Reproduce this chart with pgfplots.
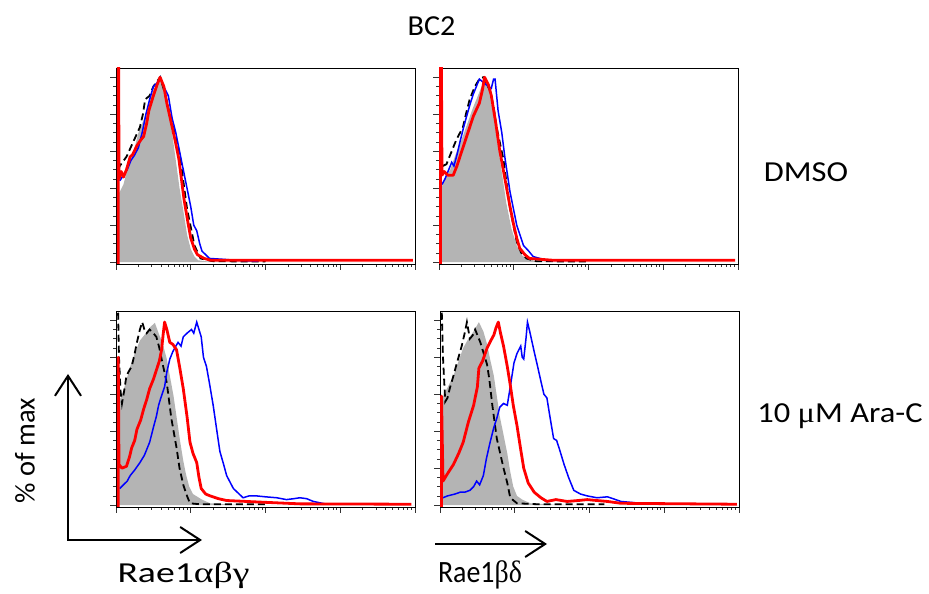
\documentclass[border=0pt]{standalone}
\usepackage{pgfplots}
\pgfplotsset{compat=1.18}
\usetikzlibrary{arrows.meta}
\usepackage{fontspec}
\setmainfont{Carlito}
\newfontfamily\grk{Liberation Serif}
\definecolor{fillgray}{RGB}{180,180,180}
\pgfplotsset{
  facs/.style={
    scale only axis, width=299pt, height=196pt,
    xmin=0, xmax=4, ymin=-1, ymax=105,
    axis line style={black, line width=0.8pt},
    tick align=outside, xtick pos=bottom, ytick pos=left,
    xtick={0,1,2,3,4}, ytick={0,20,40,60,80,100},
    minor ytick={5,10,15,25,30,35,45,50,55,65,70,75,85,90,95},
    minor xtick={0.301,0.477,0.602,0.699,0.778,0.845,0.903,0.954,
                 1.301,1.477,1.602,1.699,1.778,1.845,1.903,1.954,
                 2.301,2.477,2.602,2.699,2.778,2.845,2.903,2.954,
                 3.301,3.477,3.602,3.699,3.778,3.845,3.903,3.954},
    xticklabels={}, yticklabels={},
    major tick length=6pt, minor tick length=3pt,
    every tick/.style={black!80, line width=0.8pt},
    clip=true,
  },
  gfill/.style={fill=fillgray, draw=none},
  dline/.style={black, line width=1.8pt, dash pattern=on 7pt off 4pt},
  bline/.style={blue, line width=1.5pt},
  rline/.style={red, line width=2.8pt, line join=round},
}
\tikzset{lab/.style={font=\fontsize{29}{32}\selectfont, anchor=base, inner sep=0pt},
  barb/.style={line width=2pt, -{Straight Barb[length=20pt,width=26pt]}}}
\begin{document}
\begin{tikzpicture}
\path[use as bounding box] (0pt,0pt) rectangle (929pt,594pt);

% Panel 1: DMSO, Rae1abg
\begin{axis}[facs, at={(116pt,330pt)}, anchor=south west]
\addplot[gfill] coordinates {(0.02,-1)(0.02,36)(0.05,38)(0.1,42)(0.15,50)(0.2,55)(0.25,62)(0.3,70)(0.35,75)(0.4,80)(0.45,88)(0.5,93)(0.55,97)(0.6,100)(0.65,92)(0.7,82)(0.75,70)(0.8,55)(0.85,40)(0.9,28)(0.95,15)(1.0,7)(1.05,3)(1.1,1)(1.2,0.5)(1.5,0)(4,0)} \closedcycle;
\addplot[dline] coordinates {(0.03,50)(0.05,52)(0.14,57)(0.23,65)(0.32,73)(0.36,80)(0.39,88)(0.45,90)(0.5,95)(0.59,100)(0.65,92)(0.72,80)(0.77,73)(0.86,56)(0.95,29)(1.05,9)(1.13,2)(1.3,0.5)(2,0.3)};
\addplot[bline] coordinates {(0.05,44)(0.1,47)(0.15,50)(0.2,55)(0.25,58)(0.3,62)(0.35,70)(0.4,80)(0.45,88)(0.5,95)(0.55,97)(0.59,100)(0.65,94)(0.7,90)(0.75,78)(0.8,70)(0.85,60)(0.9,50)(0.95,40)(1.0,30)(1.04,20)(1.08,17)(1.12,10)(1.15,6)(1.25,2)(1.45,1.5)(1.6,1)(1.9,0.5)};
\addplot[rline] coordinates {(0.03,-1)(0.03,200)(0.04,45)(0.07,49)(0.1,46)(0.14,50)(0.19,57)(0.22,58)(0.28,63)(0.33,66)(0.37,68)(0.41,75)(0.44,82)(0.5,90)(0.55,96)(0.59,100)(0.64,95)(0.68,86)(0.73,77)(0.79,66)(0.84,56)(0.91,34)(0.96,22)(1.0,13)(1.05,7)(1.09,4)(1.18,2)(1.27,1)(1.6,1)(3.97,1)};
\end{axis}

% Panel 2: DMSO, Rae1bd
\begin{axis}[facs, at={(439pt,330pt)}, anchor=south west]
\addplot[gfill] coordinates {(0.03,-1)(0.03,40)(0.08,45)(0.15,50)(0.22,58)(0.3,66)(0.38,75)(0.45,83)(0.52,90)(0.58,96)(0.61,100)(0.66,94)(0.72,82)(0.81,57)(0.9,32)(0.97,18)(1.04,9)(1.1,4)(1.17,2)(1.3,0.5)(1.6,0)(4,0)} \closedcycle;
\addplot[dline] coordinates {(0.05,52)(0.1,53)(0.14,57)(0.23,66)(0.32,73)(0.36,80)(0.41,88)(0.48,95)(0.54,99)(0.59,100)(0.68,93)(0.73,84)(0.77,73)(0.86,56)(0.95,29)(1.04,11)(1.1,5)(1.17,2)(1.3,0.5)(2,0.3)};
\addplot[bline] coordinates {(0.04,42)(0.08,45)(0.13,50)(0.17,54)(0.2,52)(0.24,58)(0.28,65)(0.33,73)(0.37,79)(0.42,86)(0.46,91)(0.5,95)(0.54,99)(0.6,97)(0.66,95)(0.7,94)(0.73,99)(0.75,99)(0.79,82)(0.84,70)(0.88,57)(0.95,38)(1.0,28)(1.04,20)(1.13,9)(1.2,6)(1.26,3)(1.44,1)(1.88,1)};
\addplot[rline] coordinates {(0.02,-1)(0.02,200)(0.04,47)(0.07,49)(0.12,47)(0.19,47)(0.24,52)(0.28,57)(0.37,68)(0.46,79)(0.54,86)(0.58,93)(0.61,100)(0.66,96)(0.7,90)(0.76,75)(0.81,61)(0.9,41)(0.95,30)(1.0,20)(1.04,13)(1.08,7.5)(1.15,4)(1.21,2)(1.53,1)(3.96,1)};
\end{axis}

% Panel 3: Ara-C, Rae1abg
\begin{axis}[facs, at={(116pt,87pt)}, anchor=south west]
\addplot[gfill] coordinates {(0.03,-1)(0.03,55)(0.1,62)(0.19,75)(0.25,82)(0.32,89)(0.38,92)(0.45,96)(0.52,98.6)(0.57,93)(0.62,88)(0.68,79)(0.72,70)(0.77,59)(0.82,45)(0.86,34)(0.9,24)(0.94,16)(0.98,10)(1.03,6)(1.15,3)(1.26,1)(1.57,0.3)(2,0)(4,0)} \closedcycle;
\addplot[dline] coordinates {(0.025,110)(0.04,80)(0.06,62)(0.08,55)(0.11,62)(0.14,70)(0.18,73)(0.21,75)(0.25,82)(0.28,88)(0.32,95)(0.35,99)(0.38,95)(0.41,93)(0.45,95)(0.5,93)(0.54,91)(0.58,85)(0.61,79)(0.68,66)(0.74,47)(0.81,31)(0.85,20)(0.9,11)(0.95,5)(0.99,1)(1.12,0.5)(2.0,0.5)};
\addplot[bline] coordinates {(0.05,9)(0.1,11)(0.15,13)(0.19,16)(0.25,19)(0.32,23)(0.38,27)(0.45,34)(0.5,42)(0.54,48)(0.57,54)(0.6,58)(0.65,64)(0.68,72)(0.72,79)(0.76,83)(0.8,86)(0.83,88)(0.87,86)(0.9,91)(0.95,93)(1.01,95)(1.04,93)(1.08,99)(1.11,95)(1.14,91)(1.17,80)(1.21,75)(1.25,66)(1.3,54)(1.35,40)(1.39,29)(1.44,22)(1.48,16)(1.57,9)(1.7,4)(1.78,5)(1.88,5)(2.0,4.5)(2.15,4)(2.28,3)(2.38,3.5)(2.46,4)(2.55,3.5)(2.64,2)(2.82,0.5)};
\addplot[rline] coordinates {(0.03,-1)(0.03,80)(0.04,22)(0.08,20)(0.14,21)(0.18,26)(0.21,31)(0.25,35)(0.28,41)(0.33,46)(0.37,52)(0.41,57)(0.45,63)(0.5,68)(0.54,73)(0.58,78)(0.61,84)(0.63,92)(0.65,99)(0.68,95)(0.72,88)(0.76,87)(0.81,84)(0.85,75)(0.9,63)(0.95,48)(0.99,34)(1.03,28)(1.08,23)(1.11,15)(1.14,9)(1.2,6)(1.26,5)(1.37,3.5)(1.48,2.5)(2.01,1.5)(2.46,0.7)(3.95,0.5)};
\end{axis}

% Panel 4: Ara-C, Rae1bd
\begin{axis}[facs, at={(440pt,87pt)}, anchor=south west]
\addplot[gfill] coordinates {(0.03,-1)(0.03,58)(0.08,62)(0.18,70)(0.25,78)(0.31,85)(0.38,90)(0.45,94)(0.52,99)(0.58,94)(0.63,87)(0.67,79)(0.72,70)(0.76,59)(0.8,48)(0.85,38)(0.9,28)(0.94,18)(0.98,10)(1.03,5)(1.1,3)(1.21,1)(1.52,0.3)(2,0)(4,0)} \closedcycle;
\addplot[dline] coordinates {(0.02,110)(0.04,80)(0.07,56)(0.1,58)(0.13,63)(0.18,70)(0.22,76)(0.29,86)(0.33,93)(0.36,99)(0.4,90)(0.44,92)(0.47,95)(0.5,92)(0.54,88)(0.63,76)(0.66,68)(0.7,54)(0.76,36)(0.85,20)(0.9,12)(0.94,4)(1.03,1)(1.3,0.5)(2.2,0.5)};
\addplot[bline] coordinates {(0.04,4)(0.1,5)(0.2,6)(0.27,7)(0.33,7)(0.4,8)(0.45,10)(0.49,13)(0.53,11)(0.58,16)(0.62,25)(0.67,34)(0.72,42)(0.76,47)(0.8,53)(0.85,55)(0.9,54)(0.94,64)(0.99,77)(1.03,82)(1.08,86)(1.1,80)(1.12,79)(1.15,90)(1.17,99)(1.2,94)(1.26,83)(1.3,76)(1.35,67)(1.39,60)(1.43,58)(1.47,48)(1.52,36)(1.56,35)(1.6,30)(1.66,22)(1.72,15)(1.79,8)(1.88,6)(1.97,5)(2.1,4)(2.24,4.5)(2.35,3)(2.42,2)(2.69,1)};
\addplot[rline] coordinates {(0.02,-1)(0.02,59)(0.04,13)(0.1,17)(0.18,22)(0.25,28)(0.31,34)(0.38,45)(0.45,54)(0.5,64)(0.52,74)(0.57,78)(0.63,85)(0.68,89)(0.72,92)(0.75,96)(0.78,99)(0.81,93)(0.85,86)(0.9,75)(0.94,65)(0.98,54)(1.03,43)(1.08,30)(1.12,20)(1.18,12)(1.26,7)(1.35,4)(1.43,2)(1.55,3)(1.7,2)(1.85,2.5)(1.97,3)(2.1,2.5)(2.24,2)(2.42,1)(3.97,0.5)};
\end{axis}

% Annotations
\node[lab, xscale=1.04] at (431.5pt,558pt) {BC2};
\node[lab, xscale=1.12] at (806pt,412pt) {DMSO};
\node[lab, xscale=1.12] at (840pt,171pt) {10 {\grk μ}M Ara-C};
\node[font=\fontsize{28.5}{32}\selectfont, rotate=90] at (25pt,143pt) {\% of max};
\draw[barb] (68pt,54pt) -- (68pt,220pt);
\draw[barb] (67pt,54pt) -- (202pt,54pt);
\draw[barb] (435pt,50pt) -- (547pt,50pt);
\node[lab, xscale=1.3] at (183.5pt,11pt) {Rae1{\grk αβγ}};
\node[lab, xscale=0.9, font=\fontsize{31}{34}\selectfont] at (480pt,11pt) {Rae1{\grk βδ}};
\end{tikzpicture}
\end{document}
